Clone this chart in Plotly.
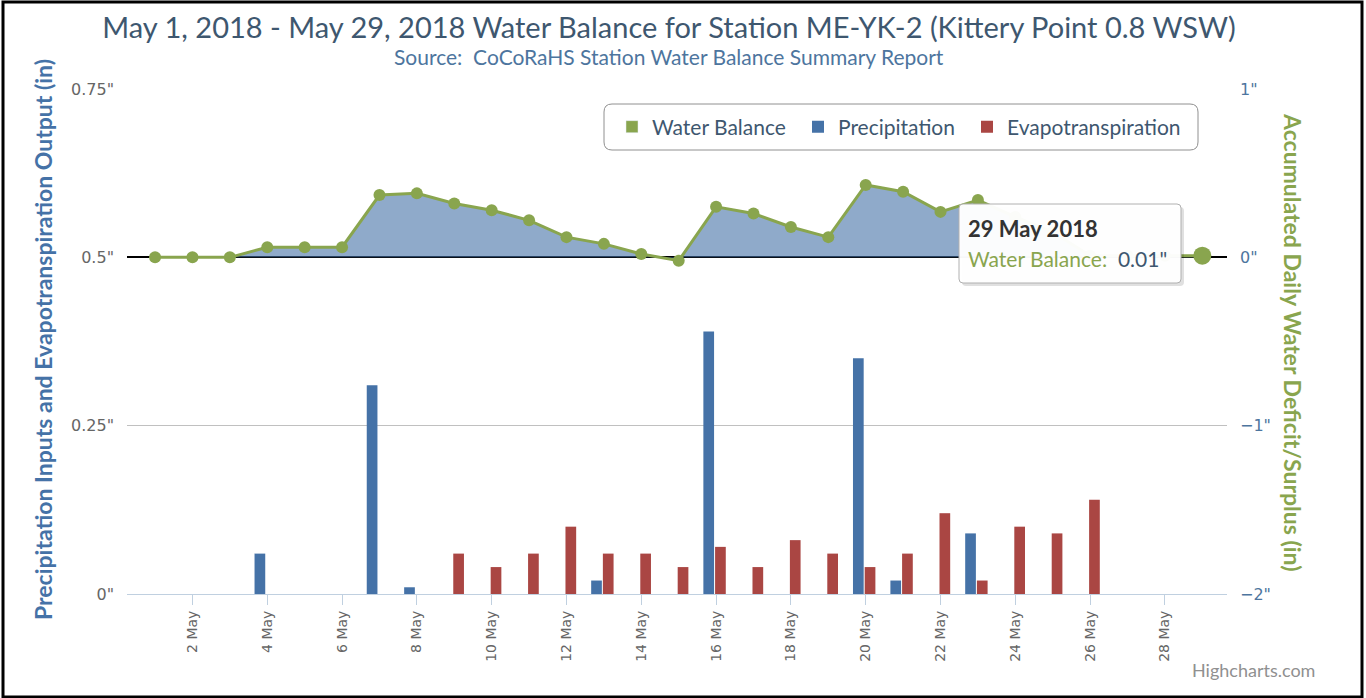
import plotly.graph_objects as go
import pandas as pd

# ---------------- data ----------------
dates = pd.date_range("2018-05-01", "2018-05-29", freq="D")
precipitation = [0, 0, 0, 0.06, 0, 0, 0.31, 0.01, 0, 0, 0, 0, 0.02, 0, 0,
                 0.39, 0, 0, 0, 0.35, 0.02, 0, 0.09, 0, 0, 0, 0, 0, 0]
evapotranspiration = [0, 0, 0, 0, 0, 0, 0, 0, 0.06, 0.04, 0.06, 0.10, 0.06, 0.06, 0.04,
                      0.07, 0.04, 0.08, 0.06, 0.04, 0.06, 0.12, 0.02, 0.10, 0.09, 0.14, 0, 0, 0]
water_balance = [0, 0, 0, 0.06, 0.06, 0.06, 0.37, 0.38, 0.32, 0.28, 0.22, 0.12, 0.08, 0.02, -0.02,
                 0.30, 0.26, 0.18, 0.12, 0.43, 0.39, 0.27, 0.34, 0.24, 0.15, 0.01, 0.01, 0.01, 0.01]
left_ticks = [0, 0.25, 0.5, 0.75]
left_ticktext = ['0"', '0.25"', '0.5"', '0.75"']
right_ticks = [-2, -1, 0, 1]
right_ticktext = ['\u22122"', '\u22121"', '0"', '1"']

# ---------------- layout geometry (page pixels) ----------------
W, H = 1366, 698
L, R, T, B = 127, 1227, 89, 594
PW, PH = R - L, B - T


def X(px):
    return (px - L) / PW


def Y(py):
    return (B - py) / PH


def rrect(x0, y0, x1, y1, r):
    return (f"M {X(x0 + r)},{Y(y0)} L {X(x1 - r)},{Y(y0)} Q {X(x1)},{Y(y0)} {X(x1)},{Y(y0 + r)} "
            f"L {X(x1)},{Y(y1 - r)} Q {X(x1)},{Y(y1)} {X(x1 - r)},{Y(y1)} "
            f"L {X(x0 + r)},{Y(y1)} Q {X(x0)},{Y(y1)} {X(x0)},{Y(y1 - r)} "
            f"L {X(x0)},{Y(y0 + r)} Q {X(x0)},{Y(y0)} {X(x0 + r)},{Y(y0)} Z")


GREEN = "#89A54E"
BLUE = "#4572A7"
RED = "#AA4643"
DAY = 86400000
FONT = "Lato, 'Open Sans', sans-serif"
VFONT = "'DejaVu Sans', Verdana, sans-serif"
LEGEND_FONT = dict(family=FONT, size=21, color="#3E576F")

fig = go.Figure()

# legend entry for the water balance (area trace itself is drawn below)
fig.add_trace(go.Bar(x=[None], y=[None], name="Water Balance", marker_color=GREEN,
                     legendgroup="wb", showlegend=True, legend="legend"))

msize = [12] * (len(water_balance) - 1) + [18]
fig.add_trace(go.Scatter(
    x=dates, y=water_balance, yaxis="y2", name="Water Balance", showlegend=False,
    legendgroup="wb",
    mode="lines+markers", fill="tozeroy", fillcolor="rgba(69,114,167,0.6)",
    line=dict(color=GREEN, width=3),
    marker=dict(color=GREEN, size=msize, opacity=1, line=dict(width=0)),
))

fig.add_trace(go.Bar(x=dates, y=precipitation, name="Precipitation", marker_color=BLUE,
                     marker_line_width=0, width=0.286 * DAY, offset=-0.34 * DAY,
                     legend="legend2"))
fig.add_trace(go.Bar(x=dates, y=evapotranspiration, name="Evapotranspiration", marker_color=RED,
                     marker_line_width=0, width=0.286 * DAY, offset=-0.027 * DAY,
                     legend="legend3"))

shapes = [
    # legend box
    dict(type="path", xref="paper", yref="paper", path=rrect(604, 104, 1198, 150, 8),
         fillcolor="white", line=dict(color="#909090", width=1), layer="above"),
    # tooltip shadow + box
    dict(type="path", xref="paper", yref="paper", path=rrect(962, 207, 1184, 286, 4),
         fillcolor="rgba(0,0,0,0.12)", line=dict(width=0), layer="above"),
    dict(type="path", xref="paper", yref="paper", path=rrect(959, 204, 1181, 283, 4),
         fillcolor="rgba(255,255,255,0.97)", line=dict(color="#B0B0B0", width=1), layer="above"),
    # outer frame
    dict(type="rect", xref="paper", yref="paper", x0=X(3), x1=X(1362), y0=Y(697), y1=Y(2),
         line=dict(color="black", width=3), fillcolor="rgba(0,0,0,0)", layer="above"),
]

annotations = [
    dict(text="Source:  CoCoRaHS Station Water Balance Summary Report", x=X(669), y=Y(57),
         xref="paper", yref="paper", showarrow=False, xanchor="center", yanchor="middle",
         font=dict(family=FONT, size=21, color="#4D759E")),
    dict(text="Precipitation Inputs and Evapotranspiration Output (in)", x=X(43), y=Y(340),
         xref="paper", yref="paper", showarrow=False, textangle=-90,
         xanchor="center", yanchor="middle",
         font=dict(family=FONT, size=23, color=BLUE, weight="bold")),
    dict(text="Accumulated Daily Water Deficit/Surplus (in)", x=X(1293), y=Y(342),
         xref="paper", yref="paper", showarrow=False, textangle=90,
         xanchor="center", yanchor="middle",
         font=dict(family=FONT, size=23, color=GREEN, weight="bold")),
    dict(text="<b>29 May 2018</b>", x=X(966), y=Y(228), xref="paper", yref="paper",
         showarrow=False, xanchor="left", yanchor="middle",
         font=dict(family=FONT, size=22, color="#333333")),
    dict(text=f"<span style='color:{GREEN}'>Water Balance:</span>  0.01\"", x=X(966), y=Y(258),
         xref="paper", yref="paper", showarrow=False, xanchor="left", yanchor="middle",
         font=dict(family=FONT, size=21, color="#3E576F")),
    dict(text="Highcharts.com", x=X(1317), y=Y(670), xref="paper", yref="paper",
         showarrow=False, xanchor="right", yanchor="middle",
         font=dict(family=FONT, size=18, color="#909090")),
]


def legend_at(px):
    return dict(orientation="h", x=X(px), y=Y(127), xanchor="left", yanchor="middle",
                xref="paper", yref="paper", bgcolor="rgba(0,0,0,0)", borderwidth=0,
                font=LEGEND_FONT)


fig.update_layout(
    width=W, height=H,
    margin=dict(l=L, r=W - R, t=T, b=H - B, autoexpand=False),
    paper_bgcolor="white", plot_bgcolor="white",
    barmode="overlay",
    title=dict(text="May 1, 2018 - May 29, 2018 Water Balance for Station ME-YK-2 (Kittery Point 0.8 WSW)",
               x=669 / W, xref="container", xanchor="center", y=1 - 28 / H,
               yref="container", yanchor="middle",
               font=dict(family=FONT, size=29, color="#3E576F")),
    xaxis=dict(type="date", range=["2018-04-30 06:00", "2018-05-29 15:50"],
               tick0="2018-05-02", dtick=2 * DAY, tickformat="%-d %b", tickangle=-90,
               ticks="outside", ticklen=10, tickcolor="#C0D0E0", showline=True,
               linecolor="#C0D0E0", linewidth=1, showgrid=False, zeroline=False,
               tickfont=dict(family=VFONT, size=14, color="#666666")),
    yaxis=dict(range=[0, 0.75], tickvals=left_ticks, ticktext=left_ticktext,
               showgrid=True, gridcolor="#C0C0C0", gridwidth=1, zeroline=False, showline=False,
               ticks="", ticklabelstandoff=12,
               tickfont=dict(family=VFONT, size=16, color="#666666")),
    yaxis2=dict(range=[-2, 1], tickvals=right_ticks, ticktext=right_ticktext,
                overlaying="y", side="right", showgrid=False, zeroline=True,
                zerolinecolor="black", zerolinewidth=2, showline=False, ticks="",
                ticklabelstandoff=12,
                tickfont=dict(family=VFONT, size=16, color="#4D759E")),
    legend=legend_at(612),
    legend2=legend_at(798),
    legend3=legend_at(967),
    shapes=shapes,
    annotations=annotations,
    showlegend=True,
)

fig.write_html("out.html", config={"displayModeBar": False},
               post_script="document.body.style.margin='0';")
